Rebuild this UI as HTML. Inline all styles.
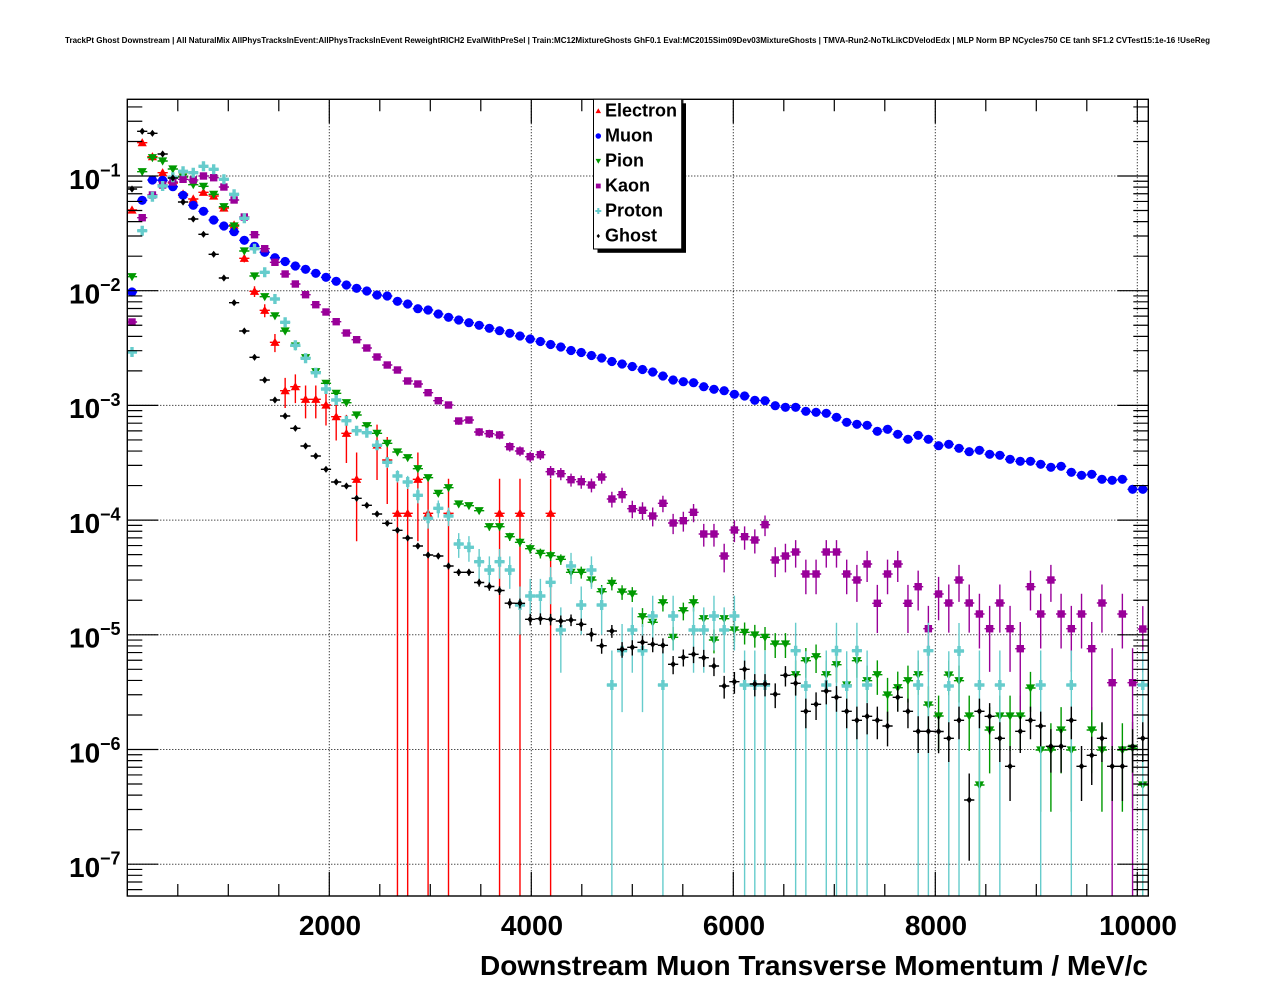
<!DOCTYPE html>
<html><head><meta charset="utf-8">
<style>
html,body{margin:0;padding:0;background:#fff;width:1276px;height:996px;overflow:hidden}
svg{display:block}
</style></head>
<body>
<svg id="s" width="1276" height="996" viewBox="0 0 1276 996" xmlns="http://www.w3.org/2000/svg" font-family="'Liberation Sans', Arial, sans-serif" font-weight="bold">
<rect x="0" y="0" width="1276" height="996" fill="#fff"/>
<text x="65" y="43" font-size="8" textLength="1145" lengthAdjust="spacingAndGlyphs">TrackPt Ghost Downstream | All NaturalMix AllPhysTracksInEvent:AllPhysTracksInEvent ReweightRICH2 EvalWithPreSel | Train:MC12MixtureGhosts GhF0.1 Eval:MC2015Sim09Dev03MixtureGhosts | TMVA-Run2-NoTkLikCDVelodEdx | MLP Norm BP NCycles750 CE tanh SF1.2 CVTest15:1e-16 !UseReg</text>
<defs><clipPath id="fr"><rect x="127.3" y="99.3" width="1021" height="796.7"/></clipPath></defs>
<g id="grid"></g>
<g id="data" clip-path="url(#fr)"></g>
<g id="axes"></g>
<!-- y labels -->
<g font-size="28">
<text x="69" y="188.8">10</text><text x="100" y="176.4" font-size="18">−1</text>
<text x="69" y="303.5">10</text><text x="100" y="291.1" font-size="18">−2</text>
<text x="69" y="418.2">10</text><text x="100" y="405.8" font-size="18">−3</text>
<text x="69" y="532.9">10</text><text x="100" y="520.5" font-size="18">−4</text>
<text x="69" y="647.6">10</text><text x="100" y="635.2" font-size="18">−5</text>
<text x="69" y="762.3">10</text><text x="100" y="749.9" font-size="18">−6</text>
<text x="69" y="877">10</text><text x="100" y="864.6" font-size="18">−7</text>
</g>
<!-- x labels -->
<g font-size="28" text-anchor="middle">
<text x="330" y="935">2000</text>
<text x="532" y="935">4000</text>
<text x="734" y="935">6000</text>
<text x="936" y="935">8000</text>
<text x="1138" y="935">10000</text>
</g>
<text x="1148" y="975" font-size="28" text-anchor="end" textLength="668" lengthAdjust="spacingAndGlyphs">Downstream Muon Transverse Momentum / MeV/c</text>
<!-- legend -->
<rect x="597.5" y="103.3" width="88.5" height="149.5" fill="#000"/>
<rect x="593.5" y="99.3" width="88.2" height="149.7" fill="#fff" stroke="#000" stroke-width="1"/>
<g id="leg"></g>
<g font-size="18">
<text x="605" y="116.7">Electron</text>
<text x="605" y="141.7">Muon</text>
<text x="605" y="166.7">Pion</text>
<text x="605" y="191.7">Kaon</text>
<text x="605" y="216.7">Proton</text>
<text x="605" y="241.7">Ghost</text>
</g>
</svg>
<script>
(function(){
const NS='http://www.w3.org/2000/svg';
function el(tag,attrs,parent){const e=document.createElementNS(NS,tag);for(const k in attrs)e.setAttribute(k,attrs[k]);parent.appendChild(e);return e;}
const L=127.3,R=1148.3,T=99.3,B=896,Y0=176,D=114.7;
const grid=document.getElementById('grid'),data=document.getElementById('data'),axes=document.getElementById('axes'),leg=document.getElementById('leg');
function yOfLog(l){return Y0-(l+1)*D;}
function xOfV(v){return L+v*0.101;}
// grid
let gp='';
for(let v=2000;v<=10000;v+=2000){const x=xOfV(v);gp+=`M${x} ${T}V${B}`;}
for(let k=1;k<=7;k++){const y=yOfLog(-k);gp+=`M${L} ${y}H${R}`;}
el('path',{d:gp,stroke:'#000','stroke-width':1,'stroke-dasharray':'1,2',fill:'none'},grid);
// ticks
let tp='';
for(let v=500;v<=10000;v+=500){const x=xOfV(v);const len=(v%2000===0)?24:12;tp+=`M${x} ${B}V${B-len}M${x} ${T}V${T+len}`;}
for(let d=-8;d<=0;d++){for(let m=1;m<=9;m++){const y=yOfLog(d+Math.log10(m));if(y<T+0.5||y>B-0.5)continue;const len=(m===1)?31:15;tp+=`M${L} ${y}H${L+len}M${R} ${y}H${R-len}`;}}
el('path',{d:tp,stroke:'#000','stroke-width':1.2,fill:'none'},axes);
el('rect',{x:L,y:T,width:R-L,height:B-T,fill:'none',stroke:'#000','stroke-width':1.4},axes);

const n=null;
const E=[210,142.7,156.7,172.7,183,194,199,192.3,196,208,225,258.3,291.3,310.3,342.3,390.7,386.7,399.3,399.3,405,416.7,433.3,479.3,n,445,460,513.3,513.3,479.3,513.3,n,513.3,n,n,n,n,513.3,n,513.3,n,n,513.3];
const MU=[292,200.3,180,180.3,186.7,195.3,205.3,211.3,220,226,231.7,240.3,246.3,252.3,257.7,261.5,266,269.3,273.3,277.3,281.3,285,288.3,291,295,296,301.3,304,308.7,310,314,317.3,320,322.7,325.3,328.3,330.7,333.3,336,339,341.5,344.5,347,350.5,352.5,355.5,358,361.5,364,366.5,369.5,372,376,380,381.7,382.7,386.7,389.3,390.7,394.3,396,400.3,400.7,405.7,407.3,407.3,411.3,412.3,413.3,417.3,422.3,424.3,425.3,431.3,429.3,434.3,439.3,435.3,439.3,445.7,444.3,448.3,451.7,450.3,454.3,455.3,459.3,461.3,461.3,464.3,467.3,466.3,472.3,475.3,474.3,479.3,480.3,479.3,489.3,489.3];
const PI=[276.7,171.7,157.7,161,169,177,184.7,186.3,194.3,206.7,226,251,276,296.7,315.8,331,346,357.7,371.7,383.3,393.3,402.7,415,425.7,433.3,443.3,452,457.7,468.7,477.7,493.3,487.7,504,505.7,510.7,526.7,526.7,536.7,542.3,548.7,553.3,555.7,559.3,572.3,572.3,580,591.7,583.3,592,594,616.7,622.3,602.7,637.3,610.7,602.7,618.7,640,618.7,630,632.3,635,637.3,644,644,674.7,660.7,656.7,674.7,664.7,685,660.7,680.7,674.7,695,687.7,680.7,674.7,705,716,675,680.7,716,785,730,716,716,716,688,750,750,730,750,n,730,750,n,750,748.3,785];
const KA=[322,217.7,195,185,182,179.3,180,176,177.7,187,200,217,234.7,248.7,262.3,274,284,294.7,304.7,312,321.7,333,339.7,348,357,365,370,381,384,392.7,400.7,405,421,420,432,433.7,435,446.7,451,456.7,454.7,471.7,473.7,479.7,481.7,485,477,499,494.7,508.7,510.3,516,503.3,523,520.7,512.3,534,534,556,530,536.7,540,524.7,560,556,552,574,574,552,552,574,580,564,603.3,574,564,603.3,586.7,628.7,594,603,580,603,614,628.7,603,628.7,648.7,586.7,614,580,614,628.7,614,648.7,603,682.7,614,682.7,629];
const PR=[352,230.7,196.7,186,177.3,171.3,172.7,166.3,169.3,179.3,194.3,218.3,248.7,272.3,299,322.3,345.3,358.3,372.7,389,400,420.7,430.7,432.7,445.3,462.3,476,482,495.3,518.3,508.3,516,544,547.3,561.7,570,561.7,570,605,596,596,582.3,630,566,605,570,605,685,650.7,630,650.7,616,685,616,n,630,630,616,630,616,685,685,685,n,n,650.7,686,n,685,650.7,686,650.7,685,n,n,n,n,685,650.7,n,686,651,n,685,n,685,n,n,n,685,n,n,685,n,n,n,n,n,n,685];
const GH=[189,131.3,133.3,154,178,202,219,234.3,254.3,278,302.7,331,357.3,380,400,416,428.3,446,456,469.3,482,486,498.3,505.3,514,523.3,530.3,538,546,555,556,566,572.3,572.3,582.5,586.5,590.5,603.2,603.3,619.3,618.7,619.3,621,620,624.3,634.3,645.7,631,649.3,647.3,642.3,644.3,645.3,664.3,657.3,654.3,657.7,666,686,681.7,669.3,684,684,694.2,675.3,683.3,711.3,704.3,691,697.3,711.3,720.3,716.3,720.3,726,697.3,711.3,731.3,731.3,731.5,738.3,720.3,800,711.3,716.3,738.3,766.3,731.3,720.3,726,746.3,746.3,720.3,766.3,755.3,738.3,766.3,766.3,746.3,738.3];

function marker(type,x,y,col,s,parent){
  s=s||1;
  if(type==='c'){el('circle',{cx:x,cy:y,r:4.6*s,fill:col},parent);}
  else if(type==='s'){const h=3.7*s;el('rect',{x:x-h,y:y-h,width:2*h,height:2*h,fill:col},parent);}
  else if(type==='tu'){el('polygon',{points:`${x-4.6*s},${y+3.6*s} ${x+4.6*s},${y+3.6*s} ${x},${y-4.6*s}`,fill:col},parent);}
  else if(type==='td'){el('polygon',{points:`${x-4.6*s},${y-3.6*s} ${x+4.6*s},${y-3.6*s} ${x},${y+4.6*s}`,fill:col},parent);}
  else if(type==='x'){const a=5*s,b=1.7*s;el('path',{d:`M${x-b} ${y-a}H${x+b}V${y-b}H${x+a}V${y+b}H${x+b}V${y+a}H${x-b}V${y+b}H${x-a}V${y-b}H${x-b}Z`,fill:col},parent);}
  else if(type==='d'){el('polygon',{points:`${x},${y-3.6*s} ${x+2.8*s},${y} ${x},${y+3.6*s} ${x-2.8*s},${y}`,fill:col},parent);}
}
function series(arr,type,col,w,opt){
  opt=opt||{};
  const g=el('g',{},data);
  let p='';
  arr.forEach((y,i)=>{
    if(y===null||y===undefined)return;
    const x=132+10.21*i;
    const l=-1-(y-Y0)/D, v=Math.pow(10,l), nn=v/w, r=1/Math.sqrt(nn);
    let up=D*Math.log10(1+r);
    let dn=(r>=0.97)?(B-y+2):-D*Math.log10(1-r);
    if(opt.bottomFrom!==undefined&&i>=opt.bottomFrom){dn=B-y+2;up=Math.max(up,28);}
    p+=`M${x-5.1} ${y}H${x+5.1}M${x} ${y-up}V${y+dn}`;
  });
  el('path',{d:p,stroke:col,'stroke-width':1.4,fill:'none'},g);
  arr.forEach((y,i)=>{if(y===null||y===undefined)return;marker(type,132+10.21*i,y,col,1,g);});
}
const cE='#ff0000',cM='#0000ff',cP='#009900',cK='#990099',cC='#66cccc',cG='#000000';
series(E,'tu',cE,1.15e-4);
series(MU,'c',cM,5e-7);
series(PI,'td',cP,5e-7);
series(KA,'s',cK,3.8e-6);
series(PR,'x',cC,3.65e-6,{bottomFrom:63});
series(GH,'d',cG,1.8e-7);
// legend markers
const lx=598.3;
marker('tu',lx,111,cE,0.6,leg);
marker('c',lx,136,cM,0.6,leg);
marker('td',lx,161,cP,0.6,leg);
marker('s',lx,186,cK,0.65,leg);
marker('x',lx,211,cC,0.6,leg);
marker('d',lx,236,cG,0.6,leg);
})();
</script>
</body></html>
